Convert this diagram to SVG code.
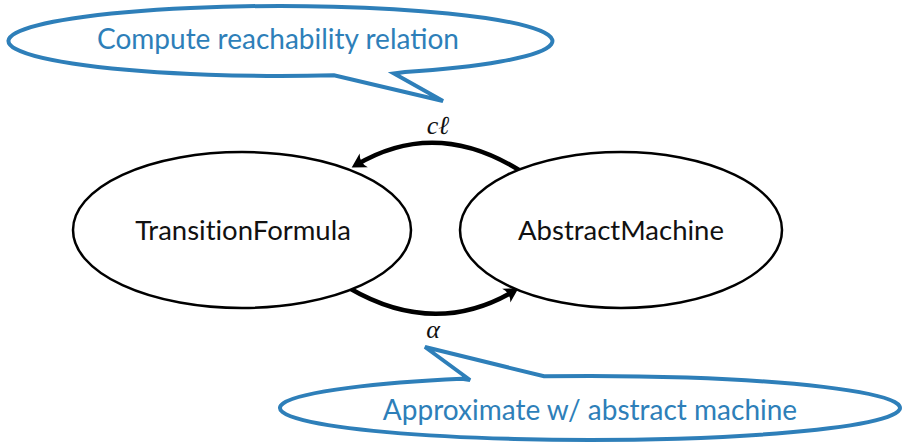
<svg xmlns="http://www.w3.org/2000/svg" width="903" height="448" viewBox="0 0 903 448">
<defs>
<style>
.node{fill:#fff;stroke:#000;stroke-width:2.5}
.ntext{font-family:Lato,"Open Sans",sans-serif;font-size:27.5px;fill:#111;text-anchor:middle;font-variant-ligatures:none}
.call{fill:#fff;stroke:#2e7fb9;stroke-width:4;stroke-linejoin:miter}
.ctext{font-family:Lato,"Open Sans",sans-serif;font-size:28px;fill:#2e7fb9;text-anchor:middle}
.edge{fill:none;stroke:#000;stroke-width:4.5}
.lbl{font-family:"Liberation Serif","DejaVu Serif",serif;font-style:italic;font-size:26px;fill:#111;text-anchor:middle}
</style>
<marker id="arr" markerUnits="userSpaceOnUse" markerWidth="30" markerHeight="30" viewBox="-15 -15 30 30" refX="0" refY="0" orient="auto">
<path d="M 5,0 L -9,-8 Q -4,0 -9,8 Z" fill="#000"/>
</marker>
</defs>
<g id="connectors">
<path class="edge" d="M 519,170 Q 435,118 356,165" marker-end="url(#arr)"/>
<path class="edge" d="M 349,288 Q 435,338 514,291" marker-end="url(#arr)"/>
<text class="lbl" x="438" y="134">cℓ</text>
<text class="lbl" x="433" y="338">α</text>
</g>
<g id="TransitionFormula">
<ellipse class="node" cx="242" cy="230" rx="169" ry="78"/>
<text class="ntext" x="243" y="240">TransitionFormula</text>
</g>
<g id="AbstractMachine">
<ellipse class="node" cx="621" cy="230" rx="161" ry="78"/>
<text class="ntext" x="621" y="240">AbstractMachine</text>
</g>
<g id="callout-top">
<path class="call" d="M 405,72.1 A 272 35 0 1 0 334,75.3 L 443,101 L 394,73.5 Z"/>
<text class="ctext" x="278" y="49">Compute reachability relation</text>
</g>
<g id="callout-bottom">
<path class="call" d="M 544,376.3 A 310 32 0 1 1 462,378.8 L 470,380 L 425,347 Z"/>
<text class="ctext" x="590" y="420">Approximate w/ abstract machine</text>
</g>
</svg>
